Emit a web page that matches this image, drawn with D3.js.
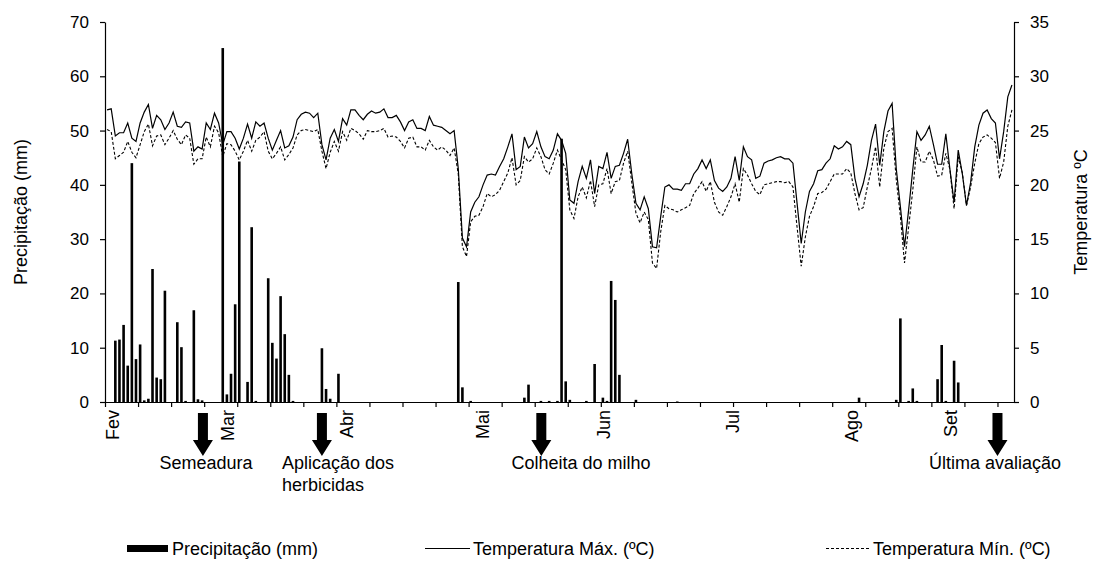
<!DOCTYPE html>
<html>
<head>
<meta charset="utf-8">
<script src="https://cdn.jsdelivr.net/npm/d3@7"></script>
<style>
  body { margin: 0; background: #fff; }
  text { font-family: "Liberation Sans", Arial, sans-serif; fill: #000; }
</style>
</head>
<body>
<script>
// daily series, 220 days starting at Feb 1
var rain = [
  0,0,11.3,11.5,14.2,6.7,44.0,7.9,10.6,0.3,0.6,24.5,4.5,4.2,20.5,0,0,14.7,10.1,0.2,
  0,16.9,0.5,0.3,0,0,0,0,65.2,1.4,5.2,18.0,44.3,0,3.7,32.2,0.2,0,0,22.8,
  10.9,8.0,19.5,12.5,5.0,0.2,0,0,0,0,0,0,9.9,2.4,0.6,0,5.2,0,0,0,
  0,0,0,0,0,0,0,0,0,0,0,0,0,0,0,0,0,0,0,0,
  0,0,0,0,0,22.1,2.7,0,0.2,0,0,0,0,0,0,0,0,0,0,0,
  0,0.8,3.2,0,0,0.2,0,0.2,0,0.2,48.5,3.8,0.4,0,0,0,0.2,0,7.0,0,
  0.8,0.2,22.3,18.8,5.0,0,0,0,0.4,0,0,0,0,0,0,0,0,0,0.1,0,
  0,0,0,0,0,0,0,0,0,0,0,0,0,0,0,0,0,0,0,0,
  0,0,0,0,0,0,0,0,0,0,0,0,0,0,0,0,0,0,0,0,
  0,0,0.8,0,0,0,0,0,0,0,0,0.4,15.4,0,0.2,2.5,0.2,0,0,0,
  0,4.2,10.5,0.2,0,7.6,3.6,0,0,0,0,0,0,0,0,0,0,0,0,0
];
var tmax = [
  26.9,27.0,24.5,24.8,24.8,25.7,24.3,24.0,25.7,26.7,27.4,25.2,26.4,26.0,25.1,25.7,26.7,25.4,25.3,25.8,
  25.7,23.1,23.5,23.3,25.7,25.1,26.6,25.7,23.7,24.9,24.9,24.3,23.3,24.3,25.6,24.3,25.8,25.4,25.7,24.3,
  23.2,24.1,25.0,23.4,23.6,24.4,26.0,26.5,26.7,26.6,26.2,26.6,23.7,22.3,24.3,25.1,24.0,26.1,25.5,26.9,
  26.9,26.4,26.0,26.5,26.8,26.6,26.7,27.0,26.2,26.2,26.4,25.8,25.0,25.8,26.0,25.2,25.2,25.0,26.3,25.5,
  25.4,25.3,25.0,24.7,25.0,21.5,15.1,14.3,17.5,18.4,18.9,20.0,20.9,21.0,20.9,21.7,22.4,23.5,24.7,21.4,
  21.7,24.4,23.4,23.8,24.9,23.5,22.6,22.4,23.2,24.7,24.1,22.9,18.6,18.3,20.3,21.7,20.6,22.3,19.2,21.7,
  21.5,23.0,20.6,21.7,21.8,22.9,24.2,21.0,18.3,17.7,18.9,17.8,14.3,14.2,17.1,19.8,20.0,19.6,19.6,19.5,
  20.1,20.1,21.0,21.5,22.3,21.5,22.3,20.4,19.7,19.4,19.8,20.6,22.6,20.4,23.5,22.6,22.3,20.6,20.8,22.0,
  22.2,22.3,22.5,22.6,22.4,22.4,22.0,18.3,14.6,17.5,19.4,20.1,21.3,21.4,22.0,22.4,23.6,23.3,23.5,24.0,
  23.7,20.6,18.9,20.1,21.8,24.1,25.6,21.8,24.9,26.8,27.5,21.5,18.0,14.3,17.7,21.4,24.9,24.1,24.6,25.4,
  23.7,21.9,21.9,24.7,21.4,18.4,23.2,21.0,18.1,20.2,23.5,25.5,26.6,26.9,26.1,25.7,22.4,24.9,28.1,29.2
];
var tmin = [
  25.1,24.9,22.4,22.7,23.0,24.0,23.0,22.5,23.7,24.9,25.6,23.6,24.5,24.6,23.7,24.3,25.0,24.2,23.7,24.6,
  24.3,21.9,22.4,22.4,24.4,23.5,25.4,24.8,22.6,23.8,23.7,23.1,22.3,23.1,24.1,23.1,24.1,24.4,24.9,23.1,
  22.4,22.9,23.5,22.3,22.8,23.4,24.6,25.0,25.1,25.0,24.9,25.1,23.1,21.5,23.0,24.0,23.1,24.9,24.1,25.2,
  25.0,24.7,24.2,25.0,24.9,24.9,25.0,25.2,24.4,24.5,24.4,24.0,23.4,24.3,24.4,23.5,23.5,23.2,24.1,23.5,
  23.2,23.5,23.2,22.7,23.4,21.0,14.3,13.4,16.6,17.1,17.2,18.0,19.2,18.9,19.1,19.5,20.3,21.1,22.5,20.0,
  20.4,22.6,22.1,22.4,23.4,22.6,21.4,21.0,22.0,23.2,22.3,21.4,17.7,16.9,18.9,19.8,18.8,20.4,18.0,20.0,
  20.1,21.5,19.2,20.3,20.4,22.0,23.1,20.2,17.4,16.5,17.5,16.8,12.8,12.3,15.7,18.1,17.8,17.7,17.5,17.7,
  17.9,18.1,19.2,19.7,20.3,19.4,20.3,18.4,17.5,17.2,18.0,18.9,20.1,18.4,21.5,20.9,20.1,19.4,19.1,20.0,
  20.1,20.2,20.3,20.3,20.2,20.3,19.8,16.1,12.5,15.2,17.1,18.0,19.2,19.3,19.6,20.3,21.0,21.0,21.0,21.5,
  21.1,19.2,17.7,17.9,19.8,21.5,23.5,19.8,23.4,24.9,25.2,20.5,17.1,12.8,16.1,19.5,23.5,22.1,22.1,23.1,
  22.3,20.8,20.9,22.9,21.4,17.8,22.6,21.1,18.1,19.8,22.0,23.8,24.4,24.6,24.3,23.9,20.6,22.1,25.4,26.9
];

var monthNames = ["Fev", "Mar", "Abr", "Mai", "Jun", "Jul", "Ago", "Set"];
var monthPos = [1.9, 29.8, 58.4, 91.3, 120.8, 152.0, 180.6, 204.6];

var eventDays = [23.7, 52.5, 105.6, 216.0];
var eventLabels = [["Semeadura"], ["Aplicação dos", "herbicidas"], ["Colheita do milho"], ["Última avaliação"]];

var rainTicks = [0, 10, 20, 30, 40, 50, 60, 70];
var tempTicks = [0, 5, 10, 15, 20, 25, 30, 35];

var width = 1099, height = 569;
var plotL = 105, plotR = 1014, plotT = 22, plotB = 402;
var nDays = rain.length;
var fs = "18px";

var svg = d3.select("body").append("svg")
  .attr("width", width)
  .attr("height", height);

var x = d3.scaleLinear().domain([0, nDays]).range([plotL, plotR]);
var yP = d3.scaleLinear().domain([0, 70]).range([plotB, plotT]);
var yT = d3.scaleLinear().domain([0, 35]).range([plotB, plotT]);

// bars
svg.append("g").selectAll("rect")
  .data(rain.map(function (v, i) { return { i: i, v: v }; }).filter(function (d) { return d.v > 0; }))
  .enter().append("rect")
  .attr("x", function (d) { return x(d.i + 0.5) - 1.3; })
  .attr("y", function (d) { return yP(d.v); })
  .attr("width", 2.6)
  .attr("height", function (d) { return plotB - yP(d.v); })
  .attr("fill", "#000");

var line = d3.line()
  .x(function (d, i) { return x(i + 0.5); })
  .y(function (d) { return yT(d); });

svg.append("path").datum(tmin)
  .attr("d", line)
  .attr("fill", "none")
  .attr("stroke", "#000")
  .attr("stroke-width", 1.1)
  .attr("stroke-dasharray", "3,2");

svg.append("path").datum(tmax)
  .attr("d", line)
  .attr("fill", "none")
  .attr("stroke", "#000")
  .attr("stroke-width", 1.2);

// axes
var xAxis = d3.axisBottom(x)
  .tickValues(d3.range(0, nDays, 8))
  .tickSize(5)
  .tickSizeOuter(0)
  .tickFormat("");
svg.append("g")
  .attr("transform", "translate(0," + plotB + ")")
  .call(xAxis);

svg.append("g")
  .attr("transform", "translate(" + plotL + ",0)")
  .call(d3.axisLeft(yP).tickValues(rainTicks).tickSize(5).tickSizeOuter(0).tickPadding(11));

svg.append("g")
  .attr("transform", "translate(" + plotR + ",0)")
  .call(d3.axisRight(yT).tickValues(tempTicks).tickSize(5).tickSizeOuter(0).tickPadding(11));

svg.selectAll(".domain, .tick line").attr("stroke", "#000").attr("stroke-width", 1.2);
svg.selectAll(".tick text").style("font-size", "17px").style("font-family", "Liberation Sans, Arial, sans-serif");

// month labels
svg.append("g").selectAll("text")
  .data(monthNames)
  .enter().append("text")
  .attr("transform", function (d, i) { return "translate(" + x(monthPos[i]) + ",410) rotate(-90)"; })
  .attr("text-anchor", "end")
  .attr("dy", "0.35em")
  .style("font-size", fs)
  .text(function (d) { return d; });

// axis titles
svg.append("text")
  .attr("transform", "translate(21," + (plotT + plotB) / 2 + ") rotate(-90)")
  .attr("text-anchor", "middle")
  .attr("dy", "0.35em")
  .style("font-size", fs)
  .text("Precipitação (mm)");

svg.append("text")
  .attr("transform", "translate(1081," + (plotT + plotB) / 2 + ") rotate(-90)")
  .attr("text-anchor", "middle")
  .attr("dy", "0.35em")
  .style("font-size", fs)
  .text("Temperatura ºC");

// event arrows
var arrows = svg.append("g");
eventDays.forEach(function (d, k) {
  var cx = x(d);
  arrows.append("path")
    .attr("d", "M" + (cx - 5) + ",413 L" + (cx + 5) + ",413 L" + (cx + 5) + ",440 L" + (cx + 10) + ",440 L" + cx + ",456 L" + (cx - 10) + ",440 L" + (cx - 5) + ",440 Z")
    .attr("fill", "#000");
});

var labelX = [206, 282, 581, 995];
var labelAnchor = ["middle", "start", "middle", "middle"];
eventLabels.forEach(function (lines, k) {
  var t = svg.append("text")
    .attr("text-anchor", labelAnchor[k])
    .style("font-size", fs);
  lines.forEach(function (s, j) {
    t.append("tspan").attr("x", labelX[k]).attr("y", 469 + j * 22).text(s);
  });
});

// legend
var lg = svg.append("g");
lg.append("rect").attr("x", 127).attr("y", 545).attr("width", 41).attr("height", 7).attr("fill", "#000");
lg.append("text").attr("x", 172).attr("y", 555).style("font-size", fs).text("Precipitação (mm)");
lg.append("line").attr("x1", 425).attr("x2", 470).attr("y1", 548.5).attr("y2", 548.5)
  .attr("stroke", "#000").attr("stroke-width", 1.2);
lg.append("text").attr("x", 473).attr("y", 555).style("font-size", fs).text("Temperatura Máx. (ºC)");
lg.append("line").attr("x1", 826).attr("x2", 870).attr("y1", 548.5).attr("y2", 548.5)
  .attr("stroke", "#000").attr("stroke-width", 1.1).attr("stroke-dasharray", "3,2");
lg.append("text").attr("x", 873).attr("y", 555).style("font-size", fs).text("Temperatura Mín. (ºC)");
</script>
</body>
</html>
